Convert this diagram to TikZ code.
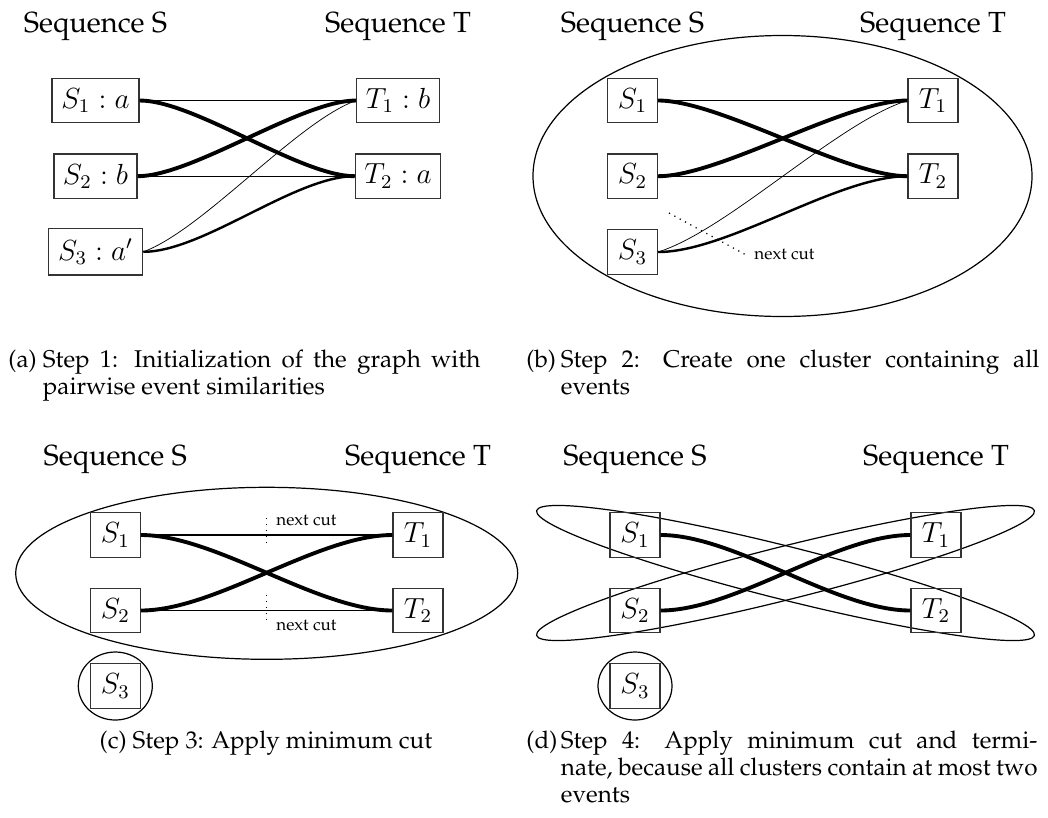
\documentclass[tikz,border=0pt]{standalone}
\usepackage[T1]{fontenc}
\renewcommand{\rmdefault}{ppl}
\begin{document}
\begin{tikzpicture}[x=0.4125pt,y=-0.4125pt,
  ev/.style={draw=black!80, line width=0.5pt, font=\large, inner sep=0pt, minimum height=18.4pt, minimum width=20.6pt},
  seqlabel/.style={font=\large, anchor=base, inner sep=0pt},
  thinE/.style={line width=0.45pt},
  thickE/.style={line width=1.6pt},
  midE/.style={line width=1.0pt},
  hairE/.style={line width=0.3pt},
  cluster/.style={line width=0.5pt},
  cutline/.style={dotted, line width=0.5pt},
  cutlabel/.style={font=\scriptsize, inner sep=0pt, anchor=base west},
  capbox/.style={font=\fontsize{10}{11.3}\selectfont, anchor=base west, inner sep=0pt, align=justify}
]
\useasboundingbox (0,0) rectangle (1048,817);

% ---------------- (a) ----------------
\node[seqlabel] (aS) at (95.5,32) {Sequence S};
\node[seqlabel] (aT) at (398,32) {Sequence T};
\node[ev, minimum width=35.9pt] (a1) at (95.5,100.5) {$S_1 : a$};
\node[ev, minimum width=34.2pt] (a2) at (95.5,176.2) {$S_2 : b$};
\node[ev, minimum width=38.9pt, minimum height=19.1pt] (a3) at (95.5,251.8) {$S_3 : a'$};
\node[ev, minimum width=34.1pt] (at1) at (398,100.5) {$T_1 : b$};
\node[ev, minimum width=35.2pt] (at2) at (398,176.2) {$T_2 : a$};
\draw[thinE] (a1.east) -- (at1.west);
\draw[thinE] (a2.east) -- (at2.west);
\draw[thickE] (a1.east) .. controls +(55,0) and +(-55,0) .. (at2.west);
\draw[thickE] (a2.east) .. controls +(55,0) and +(-55,0) .. (at1.west);
\draw[hairE] (a3.east) .. controls +(60,-22) and +(-60,22) .. (at1.west);
\draw[midE] (a3.east) .. controls +(60,0) and +(-60,0) .. (at2.west);

% ---------------- (b) ----------------
\draw[cluster] (782.5,176) ellipse [x radius=249.5, y radius=140.5];
\node[seqlabel] (bS) at (632.5,32) {Sequence S};
\node[seqlabel] (bT) at (933,32) {Sequence T};
\node[ev] (b1) at (632.5,100.5) {$S_1$};
\node[ev] (b2) at (632.5,176.2) {$S_2$};
\node[ev] (b3) at (632.5,252) {$S_3$};
\node[ev] (bt1) at (933,100.5) {$T_1$};
\node[ev] (bt2) at (933,176.2) {$T_2$};
\draw[thinE] (b1.east) -- (bt1.west);
\draw[thinE] (b2.east) -- (bt2.west);
\draw[thickE] (b1.east) .. controls +(62,0) and +(-62,0) .. (bt2.west);
\draw[thickE] (b2.east) .. controls +(62,0) and +(-62,0) .. (bt1.west);
\draw[hairE] (b3.east) .. controls +(70,-22) and +(-70,22) .. (bt1.west);
\draw[midE] (b3.east) .. controls +(70,0) and +(-70,0) .. (bt2.west);
\coordinate (bc1) at (669,213);
\coordinate (bc2) at (748,256);
\draw[cutline] (bc1) -- (bc2);
\node[cutlabel] (bcl) at (754,259) {next cut};

% ---------------- (c) ----------------
\draw[cluster] (266.7,573.3) ellipse [x radius=251, y radius=86];
\node[seqlabel] (cS) at (115.3,465) {Sequence S};
\node[seqlabel] (cT) at (418,465) {Sequence T};
\node[ev] (c1) at (115.3,535) {$S_1$};
\node[ev] (c2) at (115.3,610.5) {$S_2$};
\node[ev] (c3) at (115.3,686) {$S_3$};
\node[ev] (ct1) at (418,535) {$T_1$};
\node[ev] (ct2) at (418,610.5) {$T_2$};
\draw[cluster] (c3) ellipse [x radius=37, y radius=34];
\draw[thinE] (c1.east) -- (ct1.west);
\draw[thinE] (c2.east) -- (ct2.west);
\draw[thickE] (c1.east) .. controls +(75,0) and +(-75,0) .. (ct2.west);
\draw[thickE] (c2.east) .. controls +(75,0) and +(-75,0) .. (ct1.west);
\coordinate (cc1) at (266.7,518);
\coordinate (cc2) at (266.7,547);
\draw[cutline] (cc1) -- (cc2);
\node[cutlabel] (ccl1) at (276,525) {next cut};
\coordinate (cc3) at (266.7,595);
\coordinate (cc4) at (266.7,620);
\draw[cutline] (cc3) -- (cc4);
\node[cutlabel] (ccl2) at (276,630.5) {next cut};

% ---------------- (d) ----------------
\draw[cluster, rotate around={-14.08:(785.5,573)}] (785.5,573) ellipse [x radius=256.6, y radius=26.6];
\draw[cluster, rotate around={14.08:(785.5,573)}] (785.5,573) ellipse [x radius=256.6, y radius=26.6];
\node[seqlabel] (dS) at (635,465) {Sequence S};
\node[seqlabel] (dT) at (936,465) {Sequence T};
\node[ev] (d1) at (635,535) {$S_1$};
\node[ev] (d2) at (635,610.5) {$S_2$};
\node[ev] (d3) at (635,686) {$S_3$};
\node[ev] (dt1) at (936,535) {$T_1$};
\node[ev] (dt2) at (936,610.5) {$T_2$};
\draw[cluster] (d3) ellipse [x radius=37, y radius=34];
\draw[thickE] (d1.east) .. controls +(75,0) and +(-75,0) .. (dt2.west);
\draw[thickE] (d2.east) .. controls +(75,0) and +(-75,0) .. (dt1.west);

% ---------------- captions ----------------
\node[capbox, text width=194.7pt] (capa) at (8,367) {\hangindent=14.2pt\hangafter=1\relax\makebox[14.2pt][l]{(a)}Step 1: Initialization of the graph with\linebreak pairwise event similarities\par};
\node[capbox, text width=211.6pt] (capb) at (526,367) {\hangindent=14.2pt\hangafter=1\relax\makebox[14.2pt][l]{(b)}Step 2: Create one cluster containing all\linebreak events\par};
\node[font=\fontsize{10}{11.3}\selectfont, anchor=base, inner sep=0pt] (capc) at (266,748) {(c) Step 3: Apply minimum cut};
\node[capbox, text width=210.8pt] (capd) at (526,748) {\hangindent=14.2pt\hangafter=1\relax\makebox[14.2pt][l]{(d)}Step 4: Apply minimum cut and termi-\linebreak nate, because all clusters contain at most two\linebreak events\par};
\end{tikzpicture}
\end{document}
